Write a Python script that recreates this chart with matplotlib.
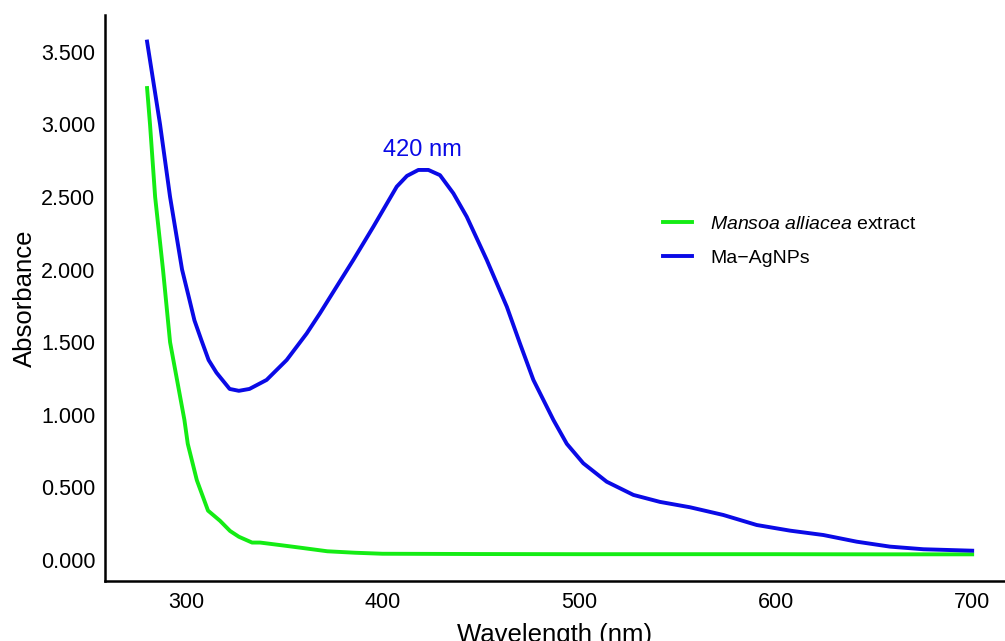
import matplotlib
matplotlib.use("Agg")
import matplotlib.pyplot as plt
from matplotlib.ticker import FuncFormatter

plt.rcParams['font.family'] = ['Liberation Sans', 'DejaVu Sans']
plt.rcParams['mathtext.fontset'] = 'custom'
plt.rcParams['mathtext.it'] = 'Liberation Sans:italic'
plt.rcParams['mathtext.rm'] = 'Liberation Sans'

# Ma-AgNPs (blue)
wl_np = [280.3, 286.9, 292, 298.1, 301.9, 304.4, 307.9, 311.6, 315.6, 322.3, 327, 332.4,
         341.1, 351.3, 361.5, 368.3, 376, 385.2, 395.4, 407.3, 412.5, 418.3, 423.4, 429.3,
         436.1, 442.9, 453.1, 463.3, 470, 476.8, 487, 493.8, 502.2, 514.1, 527.7, 541.2,
         556.5, 573.4, 590.4, 607.4, 624.3, 641.3, 658.2, 675.2, 700]
abs_np = [3.57, 3.0, 2.5, 2.0, 1.79, 1.65, 1.515, 1.377, 1.29, 1.178, 1.165, 1.178,
          1.24, 1.377, 1.56, 1.70, 1.867, 2.066, 2.295, 2.571, 2.645, 2.686, 2.686, 2.65,
          2.525, 2.364, 2.066, 1.744, 1.49, 1.24, 0.964, 0.80, 0.666, 0.539, 0.448, 0.40,
          0.363, 0.31, 0.241, 0.202, 0.172, 0.126, 0.092, 0.074, 0.064]

# Mansoa alliacea extract (green)
wl_ex = [280.3, 281.8, 284.4, 288.4, 292, 299.3, 301, 305.6, 311.3, 317.4, 322.5, 327, 333.7,
         337.8, 349.5, 358.1, 372, 386, 400, 450, 500, 550, 600, 650, 700]
abs_ex = [3.25, 3.0, 2.5, 2.0, 1.5, 0.964, 0.8, 0.55, 0.34, 0.27, 0.2, 0.16, 0.12,
          0.12, 0.10, 0.085, 0.06, 0.05, 0.043, 0.041, 0.04, 0.04, 0.04, 0.039, 0.039]

x_ticks = [300, 400, 500, 600, 700]
y_ticks = [0, 0.5, 1.0, 1.5, 2.0, 2.5, 3.0, 3.5]

fig = plt.figure(figsize=(10.05, 6.41), dpi=100)
ax = fig.add_axes([105 / 1005, 1 - 580.7 / 641, 1 - 105 / 1005, (580.7 - 15) / 641])

ax.plot(wl_ex, abs_ex, color='#14ec14', lw=2.8, label=r'$\mathit{Mansoa\ alliacea}$ extract',
        solid_joinstyle='round')
ax.plot(wl_np, abs_np, color='#0a0ae6', lw=2.8, label='Ma\u2212AgNPs', solid_joinstyle='round')

ax.text(420.2, 2.824, '420 nm', color='#0a0ae6', fontsize=17, ha='center', va='center')

ax.set_xlim(258.9, 716.7)
ax.set_ylim(-0.1426, 3.753)
ax.set_xticks(x_ticks)
ax.set_yticks(y_ticks)
ax.yaxis.set_major_formatter(FuncFormatter(lambda v, p: f"{v:.3f}"))
ax.tick_params(length=0, labelsize=15.5)
ax.tick_params(axis='y', pad=7)
ax.tick_params(axis='x', pad=8)

for s in ['top', 'right']:
    ax.spines[s].set_visible(False)
for s in ['left', 'bottom']:
    ax.spines[s].set_linewidth(1.8)

ax.set_xlabel('Wavelength (nm)', fontsize=18.5, labelpad=7)
ax.set_ylabel('Absorbance', fontsize=18.5, labelpad=3)

leg = ax.legend(loc='center left', bbox_to_anchor=(663 / 1005, 1 - 241 / 641),
                bbox_transform=fig.transFigure, frameon=False, fontsize=14,
                handlelength=1.5, handletextpad=0.93, labelspacing=0.85,
                borderpad=0, borderaxespad=0)

fig.savefig('out.png', dpi=100)
